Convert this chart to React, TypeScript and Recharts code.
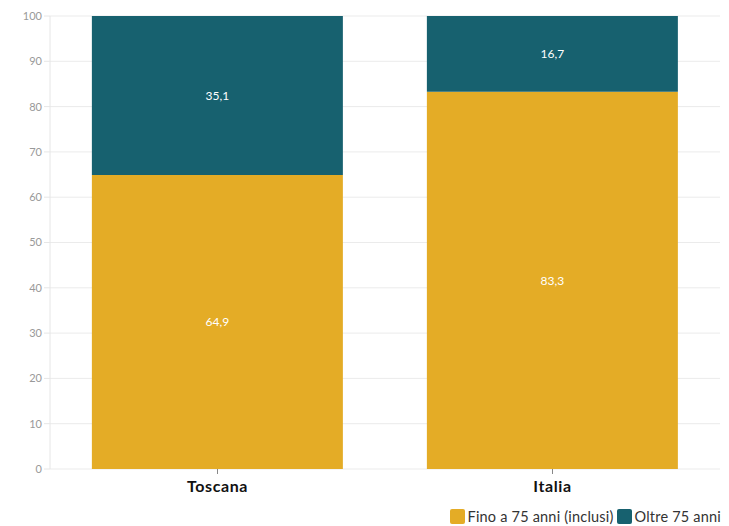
import { Bar, BarChart, CartesianGrid, LabelList, Legend, XAxis, YAxis } from "recharts";

const categories = ["Toscana", "Italia"];
const fino75 = [64.9, 83.3];
const oltre75 = [35.1, 16.7];
const yTicks = [0, 10, 20, 30, 40, 50, 60, 70, 80, 90, 100];

const data = categories.map((name, i) => ({
  name,
  fino: fino75[i],
  oltre: oltre75[i],
}));

const YELLOW = "#E4AC26";
const TEAL = "#17616F";
const FONT = "Lato, 'Open Sans', sans-serif";

const fmt = (v: unknown) => String(v).replace(".", ",");

const LegendContent = () => (
  <div
    style={{
      display: "flex",
      justifyContent: "flex-end",
      alignItems: "center",
      fontFamily: FONT,
      fontSize: 14.5,
      color: "#333",
      gap: 3,
      marginTop: 6,
      letterSpacing: 0.2,
    }}
  >
    <span style={{ width: 15, height: 15, background: YELLOW, borderRadius: 2, display: "inline-block" }} />
    <span>Fino a 75 anni (inclusi)</span>
    <span style={{ width: 15, height: 15, background: TEAL, borderRadius: 2, display: "inline-block" }} />
    <span>Oltre 75 anni</span>
  </div>
);

export default function App() {
  return (
    <div style={{ position: "absolute", left: 0, top: 0, width: 729, height: 526, background: "#fff" }}>
      <BarChart
        width={729}
        height={526}
        data={data}
        margin={{ top: 16, right: 9, bottom: 0, left: 0 }}
        barCategoryGap="12.5%"
      >
        <CartesianGrid stroke="#ebebeb" vertical={false} />
        <XAxis
          dataKey="name"
          axisLine={false}
          tickLine={{ stroke: "#888" }}
          tickSize={5}
          tickMargin={7}
          height={33}
          tick={{ fill: "#111", fontSize: 16, fontWeight: 700, fontFamily: FONT, letterSpacing: 0.6 }}
        />
        <YAxis
          domain={[0, 100]}
          ticks={yTicks}
          width={50}
          axisLine={{ stroke: "#e6e6e6" }}
          tickLine={{ stroke: "#e6e6e6" }}
          tickSize={6}
          tick={{ fill: "#999", fontSize: 11, fontFamily: FONT }}
          interval={0}
        />
        <Legend verticalAlign="bottom" height={24} content={LegendContent} wrapperStyle={{ right: 8 }} />
        <Bar dataKey="fino" stackId="a" fill={YELLOW} isAnimationActive={false} name="Fino a 75 anni (inclusi)">
          <LabelList dataKey="fino" position="center" formatter={fmt} fill="#fff" fontSize={12} fontFamily={FONT} />
        </Bar>
        <Bar dataKey="oltre" stackId="a" fill={TEAL} isAnimationActive={false} name="Oltre 75 anni">
          <LabelList dataKey="oltre" position="center" formatter={fmt} fill="#fff" fontSize={12} fontFamily={FONT} />
        </Bar>
      </BarChart>
    </div>
  );
}
